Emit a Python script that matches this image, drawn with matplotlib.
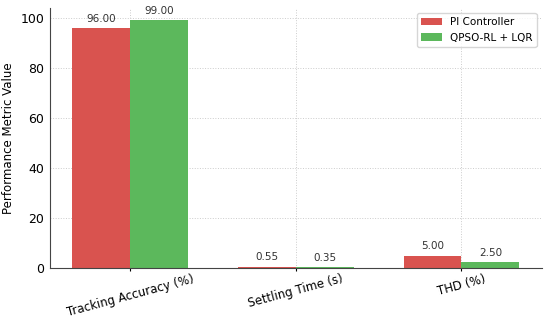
import matplotlib.pyplot as plt
import numpy as np

metrics = ['Tracking Accuracy (%)', 'Settling Time (s)', 'THD (%)']
pi_vals = [96.0, 0.55, 5.0]
qpso_vals = [99.0, 0.35, 2.5]

x = np.arange(len(metrics))
w = 0.35

fig = plt.figure(figsize=(5.5, 3.21), dpi=100)
ax = fig.add_axes([0.091, 0.165, 0.894, 0.81])

b1 = ax.bar(x - w/2, pi_vals, w, label='PI Controller', color='#d9534f')
b2 = ax.bar(x + w/2, qpso_vals, w, label='QPSO-RL + LQR', color='#5cb85c')

for bars in (b1, b2):
    for b in bars:
        h = b.get_height()
        ax.annotate('%.2f' % h, (b.get_x() + b.get_width()/2, h),
                    xytext=(0, 3), textcoords='offset points',
                    ha='center', va='bottom', fontsize=7.5, color='#333333')

ax.set_xticks(x)
ax.set_xticklabels(metrics, rotation=15, fontsize=8.5)
ax.tick_params(axis='x', length=2, pad=1)
ax.tick_params(axis='y', labelsize=9, length=0, pad=4)
ax.set_ylabel('Performance Metric Value', fontsize=8.5)
ax.grid(True, linestyle=':', color='#cccccc', linewidth=0.7)
ax.set_axisbelow(True)
ax.spines['top'].set_visible(False)
ax.spines['right'].set_visible(False)
ax.spines['left'].set_color('#444444')
ax.spines['bottom'].set_color('#444444')
ax.legend(fontsize=7.5, loc='upper right')

fig.savefig('out.png')
